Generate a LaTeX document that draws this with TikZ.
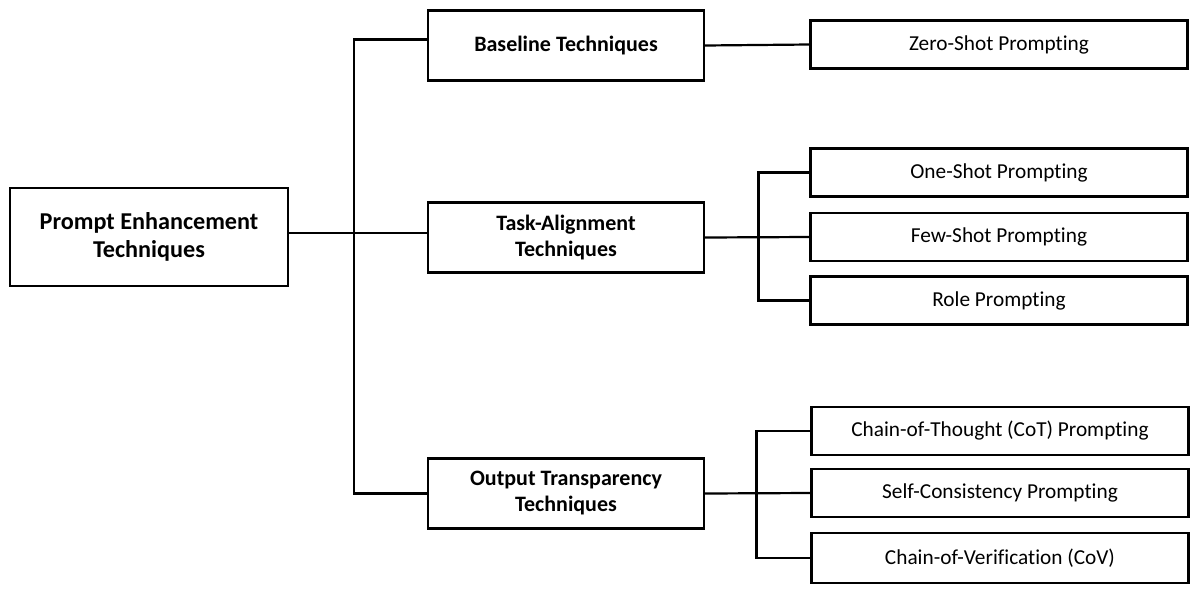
\documentclass[tikz,border=0pt]{standalone}
\usepackage{fontspec}
\setmainfont{Carlito}[Ligatures=NoCommon]
\begin{document}
\begin{tikzpicture}[x=1pt,y=-1pt,
  box/.style={draw=black,line width=2.2pt,fill=white,inner sep=0pt,align=center},
  rootbox/.style={box,minimum width=278pt,minimum height=98pt,font=\fontsize{24.2}{28}\selectfont\bfseries},
  midbox/.style={box,minimum width=276pt,minimum height=70pt,font=\fontsize{22}{26}\selectfont\bfseries},
  leafbox/.style={box,minimum width=377pt,minimum height=48pt,font=\fontsize{21.3}{25}\selectfont},
  conn/.style={line width=2.2pt,line cap=rect}]
\useasboundingbox (0,0) rectangle (1200,592);
\node[rootbox] (root) at (149,237) {Prompt Enhancement\\Techniques};
\node[midbox] (base) at (566,45.5) {Baseline Techniques};
\node[midbox] (task) at (566,237.5) {Task-Alignment\\Techniques};
\node[midbox] (out) at (566,493.5) {Output Transparency\\Techniques};
\node[leafbox] (zero) at (999,44.5) {Zero-Shot Prompting};
\node[leafbox] (one) at (999,172.5) {One-Shot Prompting};
\node[leafbox] (few) at (999,237) {Few-Shot Prompting};
\node[leafbox] (role) at (999,300.5) {Role Prompting};
\node[leafbox] (cot) at (1000,431) {Chain-of-Thought (CoT) Prompting};
\node[leafbox] (self) at (1000,493) {Self-Consistency Prompting};
\node[leafbox,minimum height=50pt] (cov) at (1000,558) {Chain-of-Verification (CoV)};
\coordinate (rootout) at ([yshift=4pt]root.east);
\coordinate (basein) at ([yshift=6pt]base.west);
\draw[conn] (rootout) -- (rootout -| task.west);
\draw[conn] (basein) -- ++(-73,0) |- (out.west);
\draw[conn] (base.east) -- (zero.west);
\draw[conn] (task.east) -- (few.west);
\draw[conn] (one.west) -- ++(-51,0) |- (role.west);
\draw[conn] (out.east) -- (self.west);
\draw[conn] (cot.west) -- ++(-54,0) |- (cov.west);
\end{tikzpicture}
\end{document}
